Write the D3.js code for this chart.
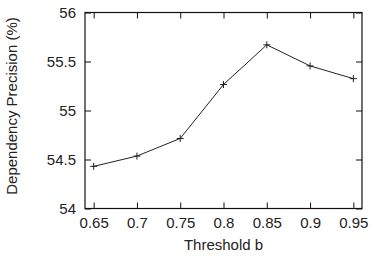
<!DOCTYPE html>
<html><head><meta charset="utf-8">
<script src="https://cdn.jsdelivr.net/npm/d3@7"></script>
<style>body{margin:0;background:#fff}svg{display:block}text{font-family:"Liberation Sans",Arial,sans-serif;fill:#222}</style>
</head><body>
<script>
const thresholds = [0.65, 0.7, 0.75, 0.8, 0.85, 0.9, 0.95];
const precision = [54.43, 54.535, 54.715, 55.265, 55.67, 55.455, 55.325];
const xTicks = [0.65, 0.7, 0.75, 0.8, 0.85, 0.9, 0.95];
const yTicks = [54, 54.5, 55, 55.5, 56];
const xLabel = "Threshold b";
const yLabel = "Dependency Precision (%)";

const W = 373, H = 256;
const L = 85, R = 362, T = 12.5, B = 208.5;
const FS = 15;
const svg = d3.select("body").append("svg").attr("width", W).attr("height", H);
const x = d3.scaleLinear().domain([0.64, 0.96]).range([L, R]);
const y = d3.scaleLinear().domain([54, 56]).range([B, T]);

const fmt = d => String(d);
const tl = 6;
// frame
svg.append("rect").attr("x", L).attr("y", T).attr("width", R - L).attr("height", B - T)
  .attr("fill", "none").attr("stroke", "#111").attr("stroke-width", 1.2);

// axes with inward ticks
const gB = svg.append("g").attr("transform", `translate(0,${B})`)
  .call(d3.axisBottom(x).tickValues(xTicks).tickFormat(fmt).tickSizeInner(-tl).tickSizeOuter(0).tickPadding(8.5));
const gT = svg.append("g").attr("transform", `translate(0,${T})`)
  .call(d3.axisTop(x).tickValues(xTicks).tickFormat("").tickSizeInner(-tl).tickSizeOuter(0));
const gL = svg.append("g").attr("transform", `translate(${L},0)`)
  .call(d3.axisLeft(y).tickValues(yTicks).tickFormat(fmt).tickSizeInner(-tl).tickSizeOuter(0).tickPadding(9));
const gR = svg.append("g").attr("transform", `translate(${R},0)`)
  .call(d3.axisRight(y).tickValues(yTicks).tickFormat("").tickSizeInner(-tl).tickSizeOuter(0));
[gB, gT, gL, gR].forEach(g => {
  g.select(".domain").remove();
  g.selectAll(".tick line").attr("stroke", "#111").attr("stroke-width", 1);
  g.selectAll("text").attr("font-size", FS).attr("fill", "#222");
});

// line
svg.append("path").datum(thresholds.map((t, i) => [t, precision[i]]))
  .attr("fill", "none").attr("stroke", "#222").attr("stroke-width", 1)
  .attr("d", d3.line().x(d => x(d[0])).y(d => y(d[1])));
// + markers
const s = 3.5;
svg.append("g").selectAll("path").data(thresholds.map((t, i) => [t, precision[i]])).join("path")
  .attr("fill", "none").attr("stroke", "#222").attr("stroke-width", 1)
  .attr("d", d => { const cx = x(d[0]), cy = y(d[1]); return `M${cx - s},${cy}H${cx + s}M${cx},${cy - s}V${cy + s}`; });

svg.append("text").attr("x", (L + R) / 2).attr("y", 249.5).attr("text-anchor", "middle")
  .attr("font-size", FS).text(xLabel);
svg.append("text").attr("transform", `translate(17.3,106) rotate(-90)`).attr("text-anchor", "middle")
  .attr("font-size", FS).text(yLabel);
</script>
</body></html>
